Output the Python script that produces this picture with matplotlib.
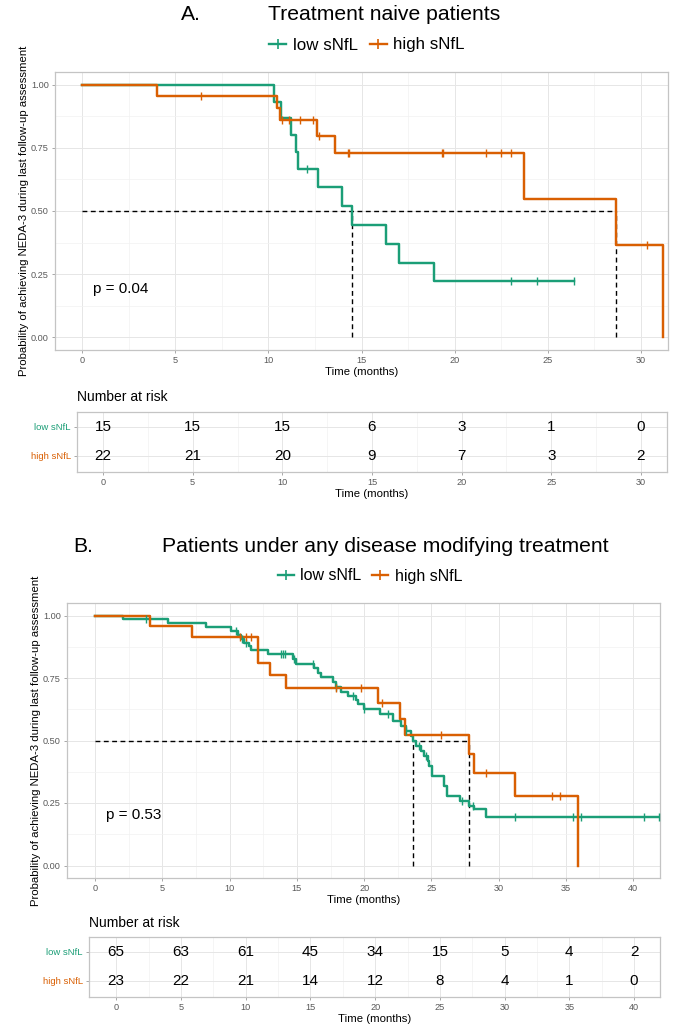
import numpy as np
import matplotlib
matplotlib.use("Agg")
import matplotlib.pyplot as plt
from matplotlib.lines import Line2D

plt.rcParams['font.family'] = ['Liberation Sans', 'DejaVu Sans']

GREEN = "#1B9E77"
ORANGE = "#D95F02"
GROUPS = ["low sNfL", "high sNfL"]

# ---------------- Panel A data (treatment naive) ----------------
a_low_t = [0, 10.3, 10.7, 11.2, 11.5, 11.6, 12.65, 13.96, 14.5, 16.3, 17.0, 18.9]
a_low_s = [1.0, 0.933, 0.867, 0.800, 0.733, 0.667, 0.593, 0.519, 0.444, 0.370, 0.296, 0.222]
a_low_end = 26.4
a_low_cens = [12.1, 23.0, 24.4, 26.4]

a_high_t = [0, 4.0, 10.45, 10.65, 12.6, 13.6, 23.7, 28.66, 31.2]
a_high_s = [1.0, 0.955, 0.907, 0.859, 0.798, 0.731, 0.548, 0.365, 0.0]
a_high_end = 31.2
a_high_cens = [6.4, 10.75, 11.1, 11.7, 12.4, 12.7, 14.26, 14.35, 19.3, 19.37,
               21.7, 22.5, 23.0, 30.3]

a_medians = [14.5, 28.66]
a_pval = "p = 0.04"
a_risk_times = [0, 5, 10, 15, 20, 25, 30]
a_risk_low = [15, 15, 15, 6, 3, 1, 0]
a_risk_high = [22, 21, 20, 9, 7, 3, 2]

# ---------------- Panel B data (any DMT) ----------------
b_low_t = [0, 2.05, 5.4, 8.25, 10.1, 10.6, 10.85, 11.1, 11.42, 11.6, 12.84, 14.7,
           14.94, 16.3, 16.6, 16.8, 17.7, 17.87, 18.3, 18.8, 19.4, 19.55, 20.0,
           21.14, 22.13, 22.75, 23.12, 23.5, 23.6, 23.87, 24.24, 24.48, 24.73,
           24.85, 25.05, 25.97, 26.14, 27.09, 27.83, 28.2, 29.07]
b_low_s = [1.0, 0.985, 0.969, 0.954, 0.938, 0.923, 0.908, 0.892, 0.877, 0.862, 0.846,
           0.826, 0.806, 0.789, 0.772, 0.756, 0.736, 0.716, 0.696, 0.680, 0.663,
           0.646, 0.628, 0.606, 0.580, 0.558, 0.537, 0.517, 0.498, 0.477, 0.457,
           0.438, 0.418, 0.398, 0.358, 0.318, 0.278, 0.259, 0.239, 0.228, 0.196]
b_low_end = 41.95
b_low_cens = [3.74, 10.48, 10.93, 11.2, 13.8, 13.97, 14.1, 14.8, 16.2, 17.87, 19.15,
              20.0, 21.8, 23.12, 24.1, 24.6, 27.3, 28.07, 31.2, 35.5, 36.1, 40.8, 41.95]

b_high_t = [0, 4.04, 7.2, 12.1, 12.96, 14.15, 21.0, 22.7, 23.0, 27.83, 28.2, 31.2, 35.9]
b_high_s = [1.0, 0.957, 0.913, 0.811, 0.761, 0.710, 0.651, 0.586, 0.521, 0.447,
            0.372, 0.279, 0.0]
b_high_end = 35.9
b_high_cens = [10.75, 11.2, 11.6, 17.87, 19.8, 21.3, 25.7, 29.07, 34.0, 34.6]

b_medians = [23.6, 27.83]
b_pval = "p = 0.53"
b_risk_times = [0, 5, 10, 15, 20, 25, 30, 35, 40]
b_risk_low = [65, 63, 61, 45, 34, 15, 5, 4, 2]
b_risk_high = [23, 22, 21, 14, 12, 8, 4, 1, 0]

YLABEL = "Probability of achieving NEDA-3 during last follow-up assessment"
XLABEL = "Time (months)"

W, H = 673, 1029
fig = plt.figure(figsize=(W / 100, H / 100), dpi=100)


def rect(left, top, right, bottom):
    return [left / W, 1 - bottom / H, (right - left) / W, (bottom - top) / H]


BORDER = "#C4C4C4"
GRID_MAJ = "#E6E6E6"
GRID_MIN = "#F2F2F2"
TICKCOL = "#595959"


def style(ax, xticks, xminor, yticks=None, yminor=None):
    for s in ax.spines.values():
        s.set_color(BORDER)
        s.set_linewidth(0.9)
    ax.set_xticks(xticks)
    ax.set_xticks(xminor, minor=True)
    if yticks is not None:
        ax.set_yticks(yticks)
        ax.set_yticks(yminor, minor=True)
    ax.grid(True, which='major', color=GRID_MAJ, lw=0.7)
    ax.grid(True, which='minor', color=GRID_MIN, lw=0.5)
    ax.set_axisbelow(True)
    ax.tick_params(which='major', length=2.5, width=0.6, color="#9A9A9A",
                   labelsize=6.6, labelcolor=TICKCOL, pad=2)
    ax.tick_params(which='minor', length=0)


def step_curve(ax, t, s, end, cens, color):
    tt = list(t) + [end]
    ss = list(s) + [s[-1]]
    ax.step(tt, ss, where='post', color=color, lw=1.75, zorder=3)
    t_arr = np.asarray(t)
    idx = np.searchsorted(t_arr, cens, side='right') - 1
    cy = np.asarray(s)[idx]
    ax.plot(cens, cy, ls='none', marker='|', ms=6, mew=1.0, color=color, zorder=4)


def km_panel(rect_plot, data, medians, pval, xlim, xticks, pval_xy, ylabelpad):
    ax = fig.add_axes(rect_plot)
    for (t, s, end, cens, col) in data:
        step_curve(ax, t, s, end, cens, col)
    mmax = max(medians)
    ax.plot([0, mmax], [0.5, 0.5], ls=(0, (3.5, 2.5)), color='black', lw=1.0, zorder=2)
    for m in medians:
        ax.plot([m, m], [0, 0.5], ls=(0, (3.5, 2.5)), color='black', lw=1.0, zorder=2)
    ax.set_xlim(*xlim)
    ax.set_ylim(-0.05, 1.05)
    xminor = [x + 2.5 for x in xticks[:-1]]
    if xticks[-1] + 2.5 < xlim[1]:
        xminor.append(xticks[-1] + 2.5)
    style(ax, xticks, xminor, [0, 0.25, 0.5, 0.75, 1.0], [0.125, 0.375, 0.625, 0.875])
    ax.set_yticklabels(["0.00", "0.25", "0.50", "0.75", "1.00"])
    ax.text(pval_xy[0], pval_xy[1], pval, fontsize=11, ha='left', va='center')
    ax.set_xlabel(XLABEL, fontsize=8.2, labelpad=1)
    ax.set_ylabel(YLABEL, fontsize=8.2, labelpad=ylabelpad)
    return ax


def risk_table(rect_tab, times, low, high, xlim, title_y, title_x):
    ax = fig.add_axes(rect_tab)
    ax.set_xlim(*xlim)
    ax.set_ylim(0.45, 2.5)
    xminor = [x + 2.5 for x in times[:-1]]
    if times[-1] + 2.5 < xlim[1]:
        xminor.append(times[-1] + 2.5)
    style(ax, times, xminor, [1, 2], [1.5])
    ax.grid(True, which='minor', axis='y', color=GRID_MIN, lw=0)
    ax.set_yticklabels([GROUPS[1], GROUPS[0]])
    for lab, col in zip(ax.get_yticklabels(), [ORANGE, GREEN]):
        lab.set_color(col)
        lab.set_fontsize(6.8)
    for t, n in zip(times, low):
        ax.text(t, 2, str(n), ha='center', va='center', fontsize=11)
    for t, n in zip(times, high):
        ax.text(t, 1, str(n), ha='center', va='center', fontsize=11)
    ax.set_xlabel(XLABEL, fontsize=8.2, labelpad=1)
    fig.text(title_x / W, 1 - title_y / H, "Number at risk", fontsize=10,
             ha='left', va='center')
    return ax


def legend(x, y, size):
    handles = [Line2D([0], [0], color=GREEN, lw=1.7, marker='|', ms=7, mew=1.2),
               Line2D([0], [0], color=ORANGE, lw=1.7, marker='|', ms=7, mew=1.2)]
    fig.legend(handles, GROUPS, loc='center', bbox_to_anchor=(x / W, 1 - y / H),
               ncol=2, frameon=False, fontsize=size, handlelength=1.0,
               handletextpad=0.4, columnspacing=0.7, borderaxespad=0)


# ---------------- Panel A ----------------
fig.text(191 / W, 1 - 15 / H, "A.", fontsize=15.2, ha='center', va='center')
fig.text(268 / W, 1 - 15 / H, "Treatment naive patients", fontsize=15.2,
         ha='left', va='center')
legend(367, 45, 12.2)
km_panel(rect(55, 72, 668, 350),
         [(a_low_t, a_low_s, a_low_end, a_low_cens, GREEN),
          (a_high_t, a_high_s, a_high_end, a_high_cens, ORANGE)],
         a_medians, a_pval, (-1.45, 31.45), [0, 5, 10, 15, 20, 25, 30],
         (0.6, 0.19), 1.5)
risk_table(rect(77, 412, 667, 472), a_risk_times, a_risk_low, a_risk_high,
           (-1.45, 31.45), 397, 77)

# ---------------- Panel B ----------------
fig.text(83 / W, 1 - 546 / H, "B.", fontsize=15.2, ha='center', va='center')
fig.text(162 / W, 1 - 546 / H, "Patients under any disease modifying treatment",
         fontsize=15.2, ha='left', va='center')
legend(370, 576, 11.5)
km_panel(rect(67, 603, 660, 878),
         [(b_low_t, b_low_s, b_low_end, b_low_cens, GREEN),
          (b_high_t, b_high_s, b_high_end, b_high_cens, ORANGE)],
         b_medians, b_pval, (-2.1, 42.0), [0, 5, 10, 15, 20, 25, 30, 35, 40],
         (0.8, 0.2), 1.0)
risk_table(rect(89, 937, 660, 997), b_risk_times, b_risk_low, b_risk_high,
           (-2.1, 42.0), 923, 89)

fig.savefig("out.png", dpi=100)
